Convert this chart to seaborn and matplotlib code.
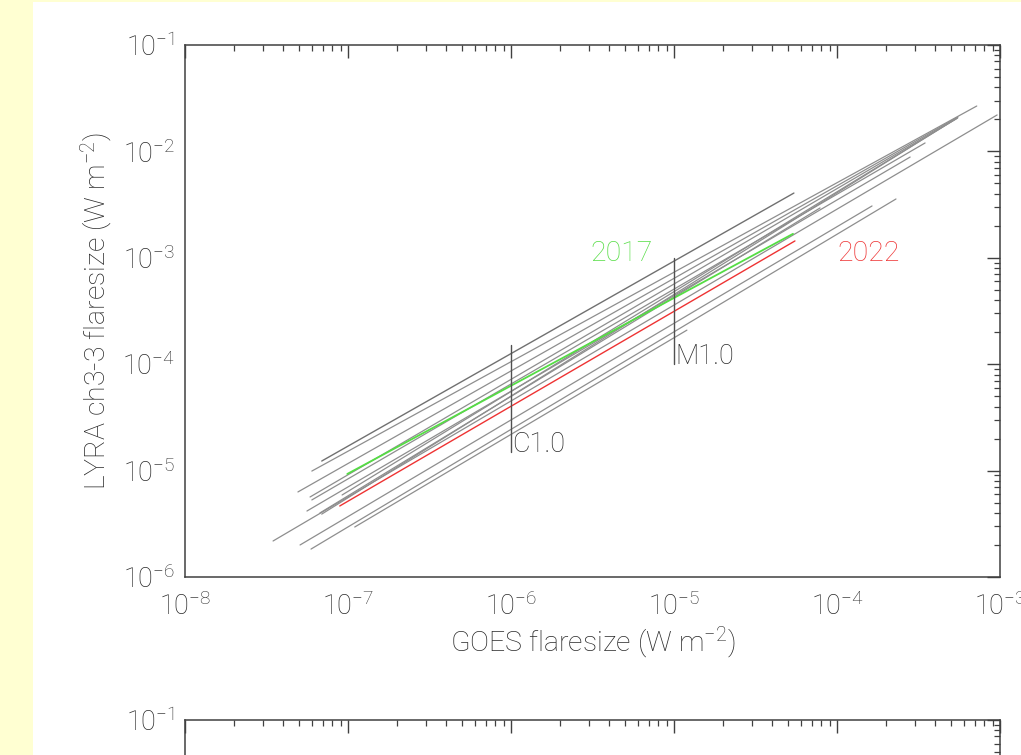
import math
import matplotlib
matplotlib.use("Agg")
import matplotlib.pyplot as plt
import seaborn as sns
import pandas as pd
from matplotlib.patches import Rectangle
from matplotlib.ticker import LogLocator, NullFormatter, FuncFormatter

# ---- data (flare-size fit lines: endpoints) ----
gray_x0 = [6.0e-8, 4.93e-8, 5.85e-8, 6.0e-8, 9.2e-8, 5.6e-8, 6.73e-8, 6.9e-8, 3.47e-8, 5.08e-8, 5.93e-8, 1.1e-7]
gray_x1 = [7.2e-4, 5.52e-4, 5.5e-4, 3.47e-4, 5.37e-4, 2.81e-4, 7.87e-5, 5.45e-4, 9.6e-4, 1.64e-4, 2.3e-4, 1.2e-5]
gray_y0 = [9.9e-6, 6.3e-6, 5.65e-6, 5.3e-6, 5.9e-6, 4.17e-6, 4.0e-6, 3.9e-6, 2.18e-6, 2.0e-6, 1.83e-6, 2.95e-6]
gray_y1 = [2.67e-2, 2.10e-2, 2.06e-2, 1.20e-2, 2.02e-2, 8.85e-3, 2.94e-3, 2.06e-2, 2.2e-2, 3.07e-3, 3.57e-3, 2.09e-4]

dark_x = [6.9e-8, 5.44e-5]
dark_y = [1.23e-5, 4.06e-3]

green_x = [9.9e-8, 5.37e-5]   # 2017
green_y = [9.3e-6, 1.68e-3]
red_x = [8.9e-8, 5.52e-5]     # 2022
red_y = [4.65e-6, 1.44e-3]

class_names = ["C1.0", "M1.0"]
class_x = [1e-6, 1e-5]
class_ylo = [1.5e-5, 1.0e-4]
class_yhi = [1.5e-4, 1.0e-3]

year_labels = ["2017", "2022"]
year_x = [3.06e-6, 1.01e-4]
year_y = [1.1e-3, 1.1e-3]

xlim = (1e-8, 1e-3)
ylim = (1e-6, 1e-1)

# ---- style ----
sns.set_style("white")
plt.rcParams["font.family"] = ["Roboto", "DejaVu Sans"]
plt.rcParams["font.weight"] = "light"
plt.rcParams["axes.labelweight"] = "light"
plt.rcParams["mathtext.default"] = "regular"
FS = 19.5
TXT = "#2a2a2a"
AX = "#404040"
GRAY = "#8e8e8e"
GREEN = "#55dd44"
RED = "#ee3333"
YEL = "#ffffd2"

fig = plt.figure(figsize=(10.21, 7.55), dpi=100)
fig.patch.set_facecolor("white")
fig.patches.append(Rectangle((0, 0), 33 / 1021, 1, transform=fig.transFigure,
                             facecolor=YEL, edgecolor="none", zorder=-10))
fig.patches.append(Rectangle((0, 1 - 2 / 755), 1, 2 / 755, transform=fig.transFigure,
                             facecolor=YEL, edgecolor="none", zorder=-10))

W, H = 1021, 755
ax = fig.add_axes([185 / W, 1 - 577 / H, 815 / W, 532 / H])
ax2 = fig.add_axes([185 / W, 1 - (720 + 532) / H, 815 / W, 532 / H])

for a in (ax, ax2):
    a.set_xscale("log")
    a.set_yscale("log")
    a.set_xlim(*xlim)
    a.set_ylim(*ylim)
    a.set_facecolor("none")
    for s in a.spines.values():
        s.set_color(AX)
        s.set_linewidth(1.1)
        s.set_visible(True)
    a.tick_params(which="both", direction="in", top=True, right=True,
                  color=AX, labelcolor=TXT, labelsize=FS)
    a.tick_params(which="major", length=9.5, width=1.0)
    a.tick_params(which="minor", length=4.5, width=0.9)
    a.tick_params(axis="x", which="major", pad=11)
    a.tick_params(axis="y", which="major", pad=7)
    a.xaxis.set_major_locator(LogLocator(base=10, numticks=10))
    a.xaxis.set_minor_locator(LogLocator(base=10, subs=range(2, 10), numticks=100))
    a.yaxis.set_major_locator(LogLocator(base=10, numticks=10))
    a.yaxis.set_minor_locator(LogLocator(base=10, subs=range(2, 10), numticks=100))
    a.xaxis.set_minor_formatter(NullFormatter())
    a.yaxis.set_minor_formatter(NullFormatter())
ax2.tick_params(axis="x", which="both", labelbottom=False)
ax2.yaxis.set_major_formatter(FuncFormatter(
    lambda v, p: r"$\mathdefault{10^{-1}}$" if abs(math.log10(v) + 1) < 1e-6 else ""))

# gray lines via seaborn
rows = []
for i, (xa, xb, ya, yb) in enumerate(zip(gray_x0, gray_x1, gray_y0, gray_y1)):
    rows.append({"x": xa, "y": ya, "id": i})
    rows.append({"x": xb, "y": yb, "id": i})
df = pd.DataFrame(rows)
sns.lineplot(data=df, x="x", y="y", units="id", estimator=None, sort=False,
             color=GRAY, linewidth=0.9, ax=ax)
sns.lineplot(x=dark_x, y=dark_y, color="#707070", linewidth=1.0, ax=ax)
sns.lineplot(x=green_x, y=green_y, color=GREEN, linewidth=1.3, ax=ax)
sns.lineplot(x=red_x, y=red_y, color=RED, linewidth=1.0, ax=ax)

for name, cx, lo, hi in zip(class_names, class_x, class_ylo, class_yhi):
    ax.plot([cx, cx], [lo, hi], color="#505050", linewidth=1.0)
    ax.text(cx * 1.02, lo, name, ha="left", va="baseline", fontsize=FS, color=TXT)

for lab, yx, yy, col in zip(year_labels, year_x, year_y, [GREEN, RED]):
    ax.text(yx, yy, lab, ha="left", va="center", fontsize=FS + 1, color=col)

ax.set_xlim(*xlim)
ax.set_ylim(*ylim)
ax.set_xlabel("GOES flaresize (W m$^{-2}$)", fontsize=FS + 1, color=TXT, labelpad=3)
ax.set_ylabel("LYRA ch3-3 flaresize (W m$^{-2}$)", fontsize=FS + 1, color=TXT, labelpad=5)
ax2.set_xlabel("")
ax2.set_ylabel("")

fig.savefig("out.png", dpi=100)
